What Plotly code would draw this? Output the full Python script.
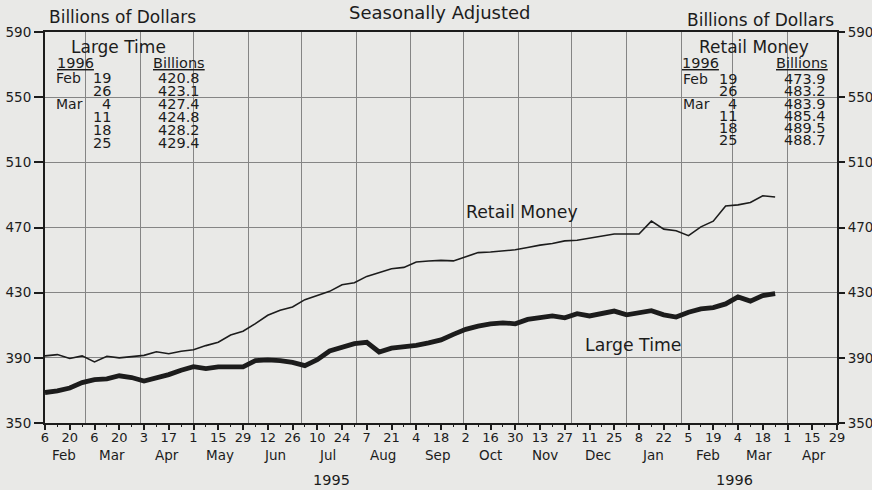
import plotly.graph_objects as go
from datetime import date, timedelta

# ---------------- data ----------------
start_week = date(1995, 2, 6)
week_dates = [start_week + timedelta(days=7 * i) for i in range(60)]

retail_money = [
    391.2, 392.0, 389.6, 391.2, 387.5, 391.0, 390.0, 390.8, 391.5, 393.7,
    392.5, 394.0, 395.0, 397.5, 399.6, 404.0, 406.3, 411.0, 416.1, 419.2,
    421.2, 425.7, 428.4, 430.8, 434.9, 436.1, 440.0, 442.2, 444.7, 445.5,
    448.8, 449.4, 449.8, 449.5, 452.0, 454.6, 455.0, 455.7, 456.3, 457.7,
    459.2, 460.2, 461.8, 462.2, 463.5, 464.9, 466.0, 466.0, 466.0, 473.9,
    469.0, 468.0, 465.0, 470.4, 473.9, 483.2, 483.9, 485.4, 489.5, 488.7,
]
large_time = [
    368.7, 369.7, 371.5, 374.8, 376.6, 377.1, 379.0, 377.9, 375.8, 377.7,
    379.7, 382.4, 384.6, 383.4, 384.5, 384.5, 384.5, 388.3, 388.8, 388.3,
    387.2, 385.2, 388.8, 394.2, 396.6, 398.7, 399.5, 393.6, 395.9, 396.5,
    397.7, 399.2, 401.0, 404.4, 407.5, 409.5, 410.9, 411.5, 410.9, 413.6,
    415.0, 415.7, 414.6, 417.1, 415.7, 417.3, 418.7, 416.4, 417.4, 418.9,
    416.4, 415.0, 418.0, 420.0, 420.8, 423.1, 427.4, 424.8, 428.2, 429.4,
]

y_ticks = [350, 390, 430, 470, 510, 550, 590]
x_start = date(1995, 2, 6)
x_end = date(1996, 4, 29)
label_ticks = [x_start + timedelta(days=14 * i) for i in range(33)]
minor_ticks = [x_start + timedelta(days=7 * i) for i in range(65)]
month_starts = [date(1995, m, 1) for m in range(3, 13)] + [date(1996, m, 1) for m in range(1, 5)]
month_names = ["Feb", "Mar", "Apr", "May", "Jun", "Jul", "Aug", "Sep", "Oct",
               "Nov", "Dec", "Jan", "Feb", "Mar", "Apr"]
month_label_dates = [date(1995, 2, 17)] + [date(1995, m, 16) for m in range(3, 13)] + \
                    [date(1996, m, 16) for m in range(1, 5)]
year_labels = ["1995", "1996"]
year_label_dates = [date(1995, 7, 18), date(1996, 3, 2)]

# ---------------- styling ----------------
BG = "#e9e9e7"
INK = "#1c1c1c"
GRID = "#858585"
FONT = "DejaVu Sans"
W, H = 872, 490
L, R, T, B = 45, 837, 32, 423


def px(x):
    return (x - L) / (R - L)


def py(y):
    return (B - y) / (B - T)


fig = go.Figure()

fig.add_trace(go.Scatter(x=week_dates, y=retail_money, mode="lines",
                         line=dict(color=INK, width=1.6), showlegend=False,
                         xaxis="x", yaxis="y"))
fig.add_trace(go.Scatter(x=week_dates, y=large_time, mode="lines",
                         line=dict(color=INK, width=4.8), showlegend=False,
                         xaxis="x", yaxis="y"))
# invisible helpers so the overlay axes render
fig.add_trace(go.Scatter(x=[x_start], y=[350], mode="markers", opacity=0,
                         showlegend=False, hoverinfo="skip", xaxis="x2", yaxis="y"))
fig.add_trace(go.Scatter(x=[x_start], y=[350], mode="markers", opacity=0,
                         showlegend=False, hoverinfo="skip", xaxis="x", yaxis="y2"))

fig.update_layout(
    width=W, height=H,
    margin=dict(l=L, r=W - R, t=T, b=H - B, autoexpand=False),
    paper_bgcolor=BG, plot_bgcolor=BG,
    font=dict(family=FONT, color=INK),
    xaxis=dict(
        type="date", range=[x_start, x_end],
        tickmode="array", tickvals=month_starts, showticklabels=False, ticks="",
        showgrid=True, gridcolor=GRID, gridwidth=1,
        showline=True, linecolor=INK, linewidth=2, mirror=True, zeroline=False,
    ),
    xaxis2=dict(
        type="date", range=[x_start, x_end], overlaying="x", side="bottom",
        anchor="y",
        tickmode="array", tickvals=label_ticks,
        ticktext=[str(d.day) for d in label_ticks],
        ticks="outside", ticklen=6, tickwidth=1.5, tickcolor=INK,
        minor=dict(tickmode="array", tickvals=minor_ticks, ticks="outside",
                   ticklen=3, tickwidth=1.2, tickcolor=INK, showgrid=False),
        ticklabelstandoff=-4,
        showgrid=False, showline=False, zeroline=False,
        tickfont=dict(family=FONT, size=13, color=INK), tickangle=0,
    ),
    yaxis=dict(
        range=[350, 590], tickmode="array", tickvals=y_ticks,
        ticks="outside", ticklen=9, tickwidth=1.5, tickcolor=INK,
        showgrid=True, gridcolor=GRID, gridwidth=1,
        showline=True, linecolor=INK, linewidth=2, mirror=True, zeroline=False,
        tickfont=dict(family=FONT, size=13.5, color=INK),
    ),
    yaxis2=dict(
        range=[350, 590], tickmode="array", tickvals=y_ticks, overlaying="y",
        side="right", anchor="x",
        ticks="outside", ticklen=7, tickwidth=1.5, tickcolor=INK,
        showgrid=False, showline=False, zeroline=False,
        tickfont=dict(family=FONT, size=13.5, color=INK),
    ),
)

ann = []


def txt(text, x, y, size=14, xanchor="center"):
    ann.append(dict(text=text, x=px(x), y=py(y), xref="paper", yref="paper",
                    xanchor=xanchor, yanchor="middle", showarrow=False,
                    borderpad=0,
                    font=dict(family=FONT, size=size, color=INK)))


# headers
txt("Billions of Dollars", 48, 17, 17, "left")
txt("Billions of Dollars", 835, 20, 17, "right")
txt("Seasonally Adjusted", 440, 13, 18)

# month and year labels below axis
for name, d in zip(month_names, month_label_dates):
    ann.append(dict(text=name, x=d, y=0, xref="x", yref="paper", yanchor="middle",
                    yshift=-32, showarrow=False,
                    font=dict(family=FONT, size=13.5, color=INK)))
for name, d in zip(year_labels, year_label_dates):
    ann.append(dict(text=name, x=d, y=0, xref="x", yref="paper", yanchor="middle",
                    yshift=-57, showarrow=False,
                    font=dict(family=FONT, size=14.5, color=INK)))

# series labels
txt("Retail Money", 522, 212, 17.3)
txt("Large Time", 633, 345, 17.3)


def table(title, values, title_x, month_x, day_x, val_x, head_y, rows_y, year_x, bill_x):
    txt(title, title_x, head_y - 16, 17)
    txt("<u>1996</u>", year_x, head_y, 14.5)
    txt("<u>Billions</u>", bill_x, head_y, 14.5)
    last_dates = week_dates[-6:]
    prev_month = None
    for i, (d, v) in enumerate(zip(last_dates, values[-6:])):
        yy = rows_y[i]
        mname = d.strftime("%b")
        if mname != prev_month:
            txt(mname, month_x, yy, 14, "left")
            prev_month = mname
        txt(str(d.day), day_x, yy, 14.5, "right")
        txt(f"{v:.1f}", val_x, yy, 14.5, "right")


left_rows = [78, 91, 104, 117, 130, 143]
right_rows = [79, 91, 104, 116, 128, 140]
table("Large Time", large_time, 118, 55, 112, 201, 63, left_rows, 75, 179)
table("Retail Money", retail_money, 754, 682, 738, 827, 63, right_rows, 700, 802)

fig.update_layout(annotations=ann)
fig.write_html(
    "out.html",
    config={"displayModeBar": False},
    post_script="document.body.style.margin='0px';document.body.style.padding='0px';"
                "document.body.style.overflow='hidden';",
)
